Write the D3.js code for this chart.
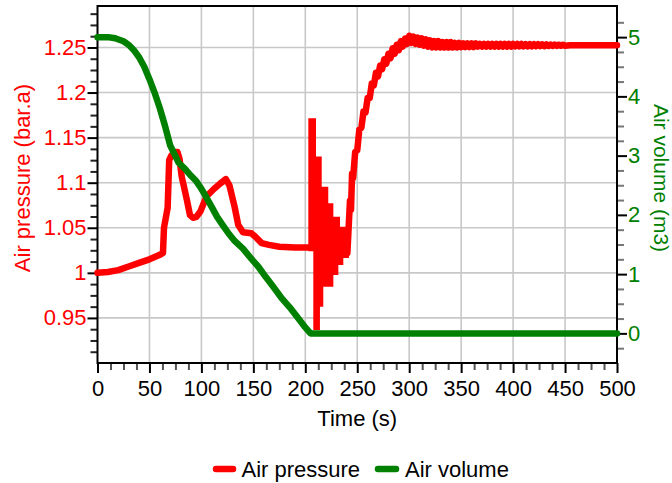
<!DOCTYPE html>
<html>
<head>
<meta charset="utf-8">
<script src="https://cdn.jsdelivr.net/npm/d3@7/dist/d3.min.js"></script>
<style>
  body { margin: 0; background: #fff; }
  text { font-family: "Liberation Sans", Arial, sans-serif; }
</style>
</head>
<body>
<svg id="chart" width="672" height="483"></svg>
<script>
// tick values
const timeTicks = [0, 50, 100, 150, 200, 250, 300, 350, 400, 450, 500];
const pressureTicks = [0.95, 1, 1.05, 1.1, 1.15, 1.2, 1.25];
const volumeTicks = [0, 1, 2, 3, 4, 5];

// Air volume (m3): [time (s), volume]
const volume = [[0, 5.0], [10, 5.0], [17, 4.98], [25, 4.93], [30, 4.87], [35, 4.78], [40, 4.66], [45, 4.5],
  [50, 4.29], [55, 4.06], [60, 3.8], [65, 3.5], [70, 3.17], [74, 3.03], [78, 2.88], [84, 2.78], [90, 2.66],
  [95, 2.57], [100, 2.44], [105, 2.29], [110, 2.13], [115, 1.97], [120, 1.84], [126, 1.69], [132, 1.56],
  [140, 1.43], [148, 1.26], [155, 1.12], [162, 0.95], [169, 0.79], [177, 0.6], [185, 0.44], [193, 0.26],
  [200, 0.1], [205, 0.0], [500, 0.0]];

// Air pressure (bar.a): [time (s), pressure]
const pressureFill = [[0, 1.0], [10, 1.001], [20, 1.003], [30, 1.007], [40, 1.011], [50, 1.015], [60, 1.02],
  [63, 1.022], [64, 1.05], [67.5, 1.072], [69, 1.125], [71, 1.13], [74, 1.134], [77, 1.134], [79, 1.126],
  [81, 1.107], [86, 1.081], [89, 1.064], [92, 1.061], [95, 1.062], [99, 1.068], [105, 1.085], [112, 1.093],
  [118, 1.099], [123.5, 1.104], [127, 1.097], [132, 1.073], [135.5, 1.053], [140, 1.045], [148, 1.044],
  [152, 1.04], [158, 1.033], [165, 1.031], [175, 1.029], [190, 1.028], [205, 1.028]];

// fast oscillation after the volume reaches 0: [time (s), lowest, highest]
const pressureSurge = [[202.9, 1.024, 1.1715], [207.7, 0.9366, 1.1715], [210.3, 0.9366, 1.129],
  [214.1, 0.9625, 1.129], [215.8, 0.9625, 1.0956], [217.3, 0.9847, 1.0956], [222.1, 0.9847, 1.0772],
  [227, 0.9976, 1.0623], [231.8, 1.0087, 1.0623], [233.4, 1.0087, 1.0512], [236.6, 1.0165, 1.0512],
  [242, 1.0165, 1.0512]];

const pressureRecovery = [[240.5, 1.022], [243, 1.08], [244, 1.07], [245, 1.11], [246, 1.105], [248, 1.134],
  [250, 1.136], [252, 1.159], [254, 1.161], [256, 1.179], [258, 1.178], [260, 1.194], [262, 1.194],
  [264, 1.21], [266, 1.208], [268, 1.222], [270, 1.218], [272, 1.23], [274, 1.226], [276, 1.237],
  [278, 1.232], [280, 1.243], [282, 1.238], [284, 1.249], [286, 1.243], [288, 1.253], [290, 1.247],
  [292, 1.257], [294, 1.251], [296, 1.26], [298, 1.254]];

const pressureSettle = [[300, 1.263], [302, 1.255], [304, 1.262], [306, 1.254], [308, 1.261], [310, 1.253],
  [312, 1.26], [314, 1.252], [316, 1.259], [318, 1.251], [320, 1.258], [322, 1.25], [324, 1.257],
  [326, 1.25], [328, 1.257], [330, 1.25], [332, 1.256], [334, 1.25], [336, 1.256], [338, 1.25],
  [340, 1.256], [342, 1.25], [344, 1.255], [346, 1.25], [348, 1.255], [350, 1.2505], [352, 1.2545],
  [354, 1.2505], [356, 1.2545], [358, 1.2505], [360, 1.2545], [362, 1.2505], [364, 1.2545], [366, 1.251],
  [368, 1.254], [370, 1.251], [372, 1.254], [374, 1.251], [376, 1.254], [378, 1.251], [380, 1.254],
  [382, 1.251], [384, 1.254], [386, 1.251], [388, 1.254], [390, 1.251], [392, 1.254], [394, 1.251],
  [396, 1.254], [398, 1.251], [400, 1.2538], [402, 1.2512], [404, 1.2538], [406, 1.2512], [408, 1.2538],
  [410, 1.2512], [412, 1.2537], [414, 1.2513], [416, 1.2537], [418, 1.2513], [420, 1.2536], [422, 1.2514],
  [424, 1.2536], [426, 1.2514], [428, 1.2535], [430, 1.2515], [432, 1.2534], [434, 1.2516], [436, 1.2533],
  [438, 1.2517], [440, 1.2532], [442, 1.2518], [444, 1.2531], [446, 1.2519], [448, 1.253], [450, 1.252],
  [455, 1.2525], [500, 1.2525]];

const red = "#ff0000";
const green = "#008000";

const svg = d3.select("#chart");
const plotLeft = 97.5, plotRight = 617, plotTop = 6, plotBottom = 363;

const x = d3.scaleLinear().domain([0, 500]).range([plotLeft, plotRight]);
const yP = d3.scaleLinear().domain([0.9, 1.296]).range([plotBottom, plotTop]);
const yV = d3.scaleLinear().domain([-0.5, 5.5]).range([plotBottom, 7.5]);

// grid
svg.append("g").selectAll("line")
  .data(timeTicks.slice(1, -1))
  .enter().append("line")
  .attr("x1", d => x(d)).attr("x2", d => x(d))
  .attr("y1", plotTop).attr("y2", plotBottom)
  .attr("stroke", "#c8c8c8").attr("stroke-width", 1.6);

svg.append("g").selectAll("line")
  .data(pressureTicks)
  .enter().append("line")
  .attr("x1", plotLeft).attr("x2", plotRight)
  .attr("y1", d => yP(d)).attr("y2", d => yP(d))
  .attr("stroke", "#c8c8c8").attr("stroke-width", 1.6);

// minor ticks
const minorX = d3.range(12.5, 500, 12.5).filter(d => d % 50 !== 0);
const minorP = d3.range(0, 31).map(i => 0.9125 + i * 0.0125).filter(d => Math.abs(d * 20 - Math.round(d * 20)) > 1e-6);
const minorV = d3.range(-0.25, 5.5, 0.25).filter(d => d % 1 !== 0);

function styleAxis(g, color, minorColor) {
  g.select(".domain").remove();
  g.selectAll("line").attr("stroke", minorColor || "#000").attr("stroke-width", 2);
  g.selectAll("text").attr("fill", color).style("font-size", "22px")
    .style("font-family", '"Liberation Sans", Arial, sans-serif');
}

svg.append("g").attr("transform", `translate(0,${plotBottom})`)
  .call(d3.axisBottom(x).tickValues(minorX).tickSize(7).tickFormat(""))
  .call(g => styleAxis(g, "#000", "#555"));
svg.append("g").attr("transform", `translate(0,${plotBottom})`)
  .call(d3.axisBottom(x).tickValues(timeTicks).tickSize(10).tickPadding(7))
  .call(g => styleAxis(g, "#000"));

svg.append("g").attr("transform", `translate(${plotLeft},0)`)
  .call(d3.axisLeft(yP).tickValues(minorP).tickSize(7).tickFormat(""))
  .call(g => styleAxis(g, red, "#222"));
svg.append("g").attr("transform", `translate(${plotLeft},0)`)
  .call(d3.axisLeft(yP).tickValues(pressureTicks).tickSize(10).tickPadding(1).tickFormat(d3.format("")))
  .call(g => styleAxis(g, red));

svg.append("g").attr("transform", `translate(${plotRight},0)`)
  .call(d3.axisRight(yV).tickValues(minorV).tickSize(7).tickFormat(""))
  .call(g => styleAxis(g, green, "#777"));
svg.append("g").attr("transform", `translate(${plotRight},0)`)
  .call(d3.axisRight(yV).tickValues(volumeTicks).tickSize(10).tickPadding(1).tickFormat(d3.format("d")))
  .call(g => styleAxis(g, green));

// frame
svg.append("rect")
  .attr("x", plotLeft).attr("y", plotTop)
  .attr("width", plotRight - plotLeft).attr("height", plotBottom - plotTop)
  .attr("fill", "none").attr("stroke", "#000").attr("stroke-width", 2);

// series
const line = y => d3.line().x(d => x(d[0])).y(d => y(d[1]));

// the oscillation is too fast to draw as a line, so it is filled between its extremes
svg.append("path")
  .attr("d", d3.area().curve(d3.curveStepAfter)
    .x(d => x(d[0])).y0(d => yP(d[1])).y1(d => yP(d[2]))(pressureSurge))
  .attr("fill", red);

[pressureFill, pressureRecovery.concat(pressureSettle)].forEach(part => {
  svg.append("path")
    .attr("d", line(yP)(part))
    .attr("fill", "none").attr("stroke", red).attr("stroke-width", 6.5)
    .attr("stroke-linejoin", "round").attr("stroke-linecap", "round");
});

svg.append("path")
  .attr("d", line(yV)(volume))
  .attr("fill", "none").attr("stroke", green).attr("stroke-width", 6.5)
  .attr("stroke-linejoin", "round").attr("stroke-linecap", "round");

// axis titles
svg.append("text")
  .attr("x", (plotLeft + plotRight) / 2).attr("y", 426)
  .attr("text-anchor", "middle").style("font-size", "22px")
  .text("Time (s)");

svg.append("text")
  .attr("transform", "translate(29.5,178) rotate(-90)")
  .attr("text-anchor", "middle").style("font-size", "22px").attr("fill", red)
  .text("Air pressure (bar.a)");

svg.append("text")
  .attr("transform", "translate(654,178) rotate(90)")
  .attr("text-anchor", "middle").style("font-size", "21px").attr("fill", green)
  .text("Air volume (m3)");

// legend
const legend = svg.append("g");
legend.append("line")
  .attr("x1", 216).attr("x2", 233).attr("y1", 469).attr("y2", 469)
  .attr("stroke", red).attr("stroke-width", 6.5).attr("stroke-linecap", "round");
legend.append("text").attr("x", 241.5).attr("y", 476.5).style("font-size", "22px").text("Air pressure");
legend.append("line")
  .attr("x1", 378).attr("x2", 396).attr("y1", 469).attr("y2", 469)
  .attr("stroke", green).attr("stroke-width", 6.5).attr("stroke-linecap", "round");
legend.append("text").attr("x", 405).attr("y", 476.5).style("font-size", "22px").text("Air volume");
</script>
</body>
</html>
